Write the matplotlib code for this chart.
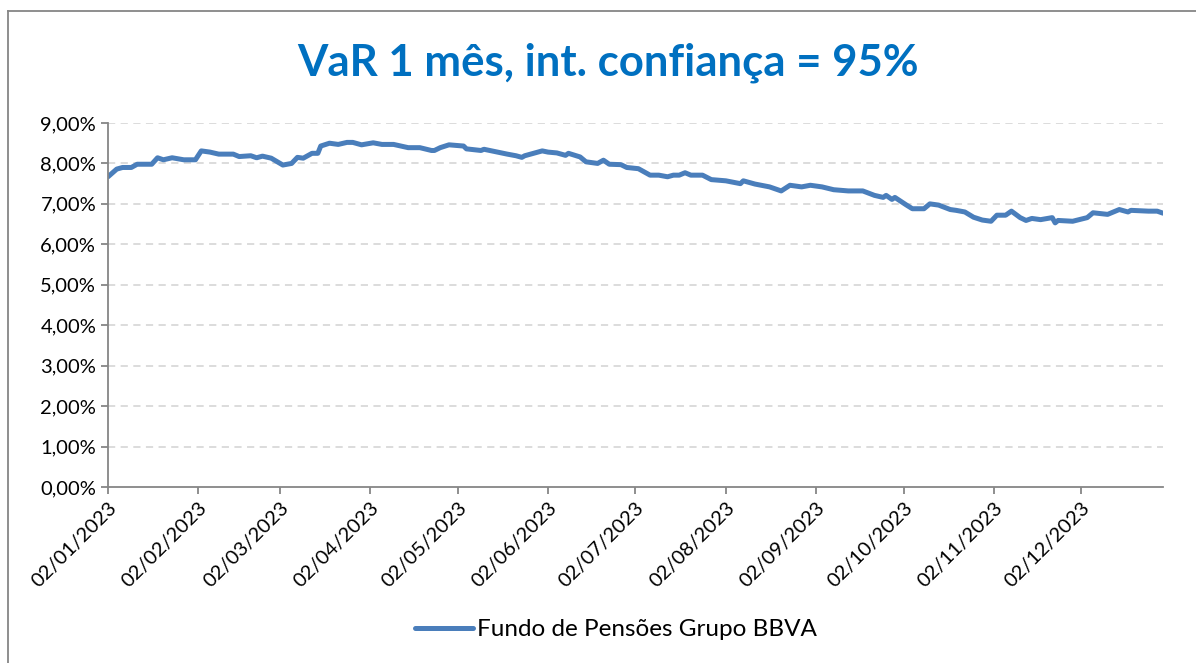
import matplotlib.pyplot as plt
import matplotlib.dates as mdates
from matplotlib.lines import Line2D
from matplotlib.ticker import FuncFormatter
import numpy as np

# VaR series (date, % value)
dates = ['2023-01-02', '2023-01-05', '2023-01-07', '2023-01-10', '2023-01-12', '2023-01-17',
         '2023-01-19', '2023-01-21', '2023-01-24', '2023-01-28', '2023-02-01', '2023-02-03',
         '2023-02-06', '2023-02-09', '2023-02-14', '2023-02-16', '2023-02-20', '2023-02-22',
         '2023-02-24', '2023-02-27', '2023-03-03', '2023-03-06', '2023-03-08', '2023-03-10',
         '2023-03-13', '2023-03-15', '2023-03-16', '2023-03-19', '2023-03-22', '2023-03-25',
         '2023-03-27', '2023-03-30', '2023-04-03', '2023-04-06', '2023-04-10', '2023-04-15',
         '2023-04-19', '2023-04-23', '2023-04-24', '2023-04-26', '2023-04-29', '2023-05-04',
         '2023-05-05', '2023-05-10', '2023-05-11', '2023-05-15', '2023-05-19', '2023-05-22',
         '2023-05-24', '2023-05-25', '2023-05-31', '2023-06-02', '2023-06-05', '2023-06-08',
         '2023-06-09', '2023-06-13', '2023-06-15', '2023-06-19', '2023-06-21', '2023-06-23',
         '2023-06-27', '2023-06-29', '2023-07-03', '2023-07-05', '2023-07-07', '2023-07-10',
         '2023-07-13', '2023-07-15', '2023-07-17', '2023-07-19', '2023-07-21', '2023-07-25',
         '2023-07-28', '2023-08-02', '2023-08-07', '2023-08-08', '2023-08-12', '2023-08-17',
         '2023-08-21', '2023-08-24', '2023-08-28', '2023-08-31', '2023-09-04', '2023-09-08',
         '2023-09-13', '2023-09-18', '2023-09-22', '2023-09-25', '2023-09-26', '2023-09-28',
         '2023-09-29', '2023-10-03', '2023-10-05', '2023-10-09', '2023-10-11', '2023-10-14',
         '2023-10-18', '2023-10-20', '2023-10-23', '2023-10-26', '2023-10-29', '2023-11-01',
         '2023-11-03', '2023-11-06', '2023-11-08', '2023-11-11', '2023-11-13', '2023-11-15',
         '2023-11-18', '2023-11-22', '2023-11-23', '2023-11-24', '2023-11-29', '2023-12-04',
         '2023-12-06', '2023-12-11', '2023-12-15', '2023-12-18', '2023-12-19', '2023-12-25',
         '2023-12-28', '2023-12-30']
var_values = [7.67, 7.86, 7.90, 7.90, 7.98, 7.98,
              8.14, 8.09, 8.14, 8.09, 8.09, 8.31,
              8.28, 8.23, 8.23, 8.17, 8.19, 8.14,
              8.18, 8.13, 7.96, 8.00, 8.15, 8.13,
              8.25, 8.25, 8.43, 8.50, 8.47, 8.52,
              8.52, 8.46, 8.51, 8.47, 8.47, 8.39,
              8.39, 8.32, 8.32, 8.39, 8.46, 8.43,
              8.36, 8.32, 8.35, 8.29, 8.23, 8.19,
              8.15, 8.19, 8.31, 8.28, 8.26, 8.20,
              8.25, 8.16, 8.04, 8.00, 8.08, 7.98,
              7.97, 7.90, 7.87, 7.79, 7.71, 7.71,
              7.67, 7.71, 7.71, 7.77, 7.71, 7.71,
              7.60, 7.57, 7.50, 7.57, 7.49, 7.42,
              7.32, 7.46, 7.42, 7.46, 7.42, 7.35,
              7.32, 7.32, 7.21, 7.16, 7.21, 7.11,
              7.16, 6.97, 6.88, 6.88, 7.00, 6.97,
              6.86, 6.84, 6.80, 6.67, 6.60, 6.57,
              6.72, 6.72, 6.82, 6.66, 6.59, 6.64,
              6.61, 6.66, 6.53, 6.59, 6.57, 6.66,
              6.78, 6.74, 6.86, 6.80, 6.84, 6.82,
              6.82, 6.77]
tick_dates = ['2023-%02d-02' % m for m in range(1, 13)]
series_name = 'Fundo de Pensões Grupo BBVA'
title = 'VaR 1 mês, int. confiança = 95%'

plt.rcParams['font.family'] = ['Lato', 'DejaVu Sans']

x = np.array(dates, dtype='datetime64[D]')
y = np.array(var_values)

fig = plt.figure(figsize=(11.96, 6.63), dpi=100)
ax = fig.add_axes([0.0903, 0.2655, 0.8821, 0.549])

line_color = '#4A7EBB'
ax.plot(x, y, color=line_color, lw=3.6, solid_joinstyle='round', solid_capstyle='round')

ax.set_xlim(np.datetime64('2023-01-02'), np.datetime64('2023-01-02') + np.timedelta64(362, 'D'))
ax.set_ylim(0, 9)
ax.set_yticks(np.arange(0, 10, 1))
ax.yaxis.set_major_formatter(FuncFormatter(lambda v, p: ('%.2f' % v).replace('.', ',') + '%'))

tk = np.array(tick_dates, dtype='datetime64[D]')
ax.set_xticks(tk)
ax.xaxis.set_major_formatter(mdates.DateFormatter('%d/%m/%Y'))
plt.setp(ax.get_xticklabels(), rotation=45, ha='right', rotation_mode='anchor')

for g in np.arange(1, 10, 1):
    ax.axhline(g, color='#D9D9D9', lw=1.3, ls=(0, (4, 3)), zorder=0)

for s in ['top', 'right']:
    ax.spines[s].set_visible(False)
for s in ['left', 'bottom']:
    ax.spines[s].set_color('#868686')
    ax.spines[s].set_linewidth(1.3)
ax.tick_params(axis='both', colors='#868686', labelcolor='black', labelsize=14.5, length=5, width=1.3)
ax.tick_params(axis='x', pad=4)

fig.text(0.508, 0.906, title, color='#0070C0', fontsize=31.5, fontweight='bold', ha='center', va='center')

handle = Line2D([], [], color=line_color, lw=3.6, solid_capstyle='round')
fig.legend([handle], [series_name], loc='center', bbox_to_anchor=(0.515, 0.05), frameon=False,
           fontsize=17.5, handlelength=2.4, handletextpad=0.15)

# outer chart border (left and top only visible)
fig.add_artist(Line2D([8 / 1196, 8 / 1196], [0, 1 - 11 / 663], transform=fig.transFigure, color='#868686', lw=1.3))
fig.add_artist(Line2D([8 / 1196, 1], [1 - 11 / 663, 1 - 11 / 663], transform=fig.transFigure, color='#868686', lw=1.3))

fig.savefig('out.png', dpi=100)
